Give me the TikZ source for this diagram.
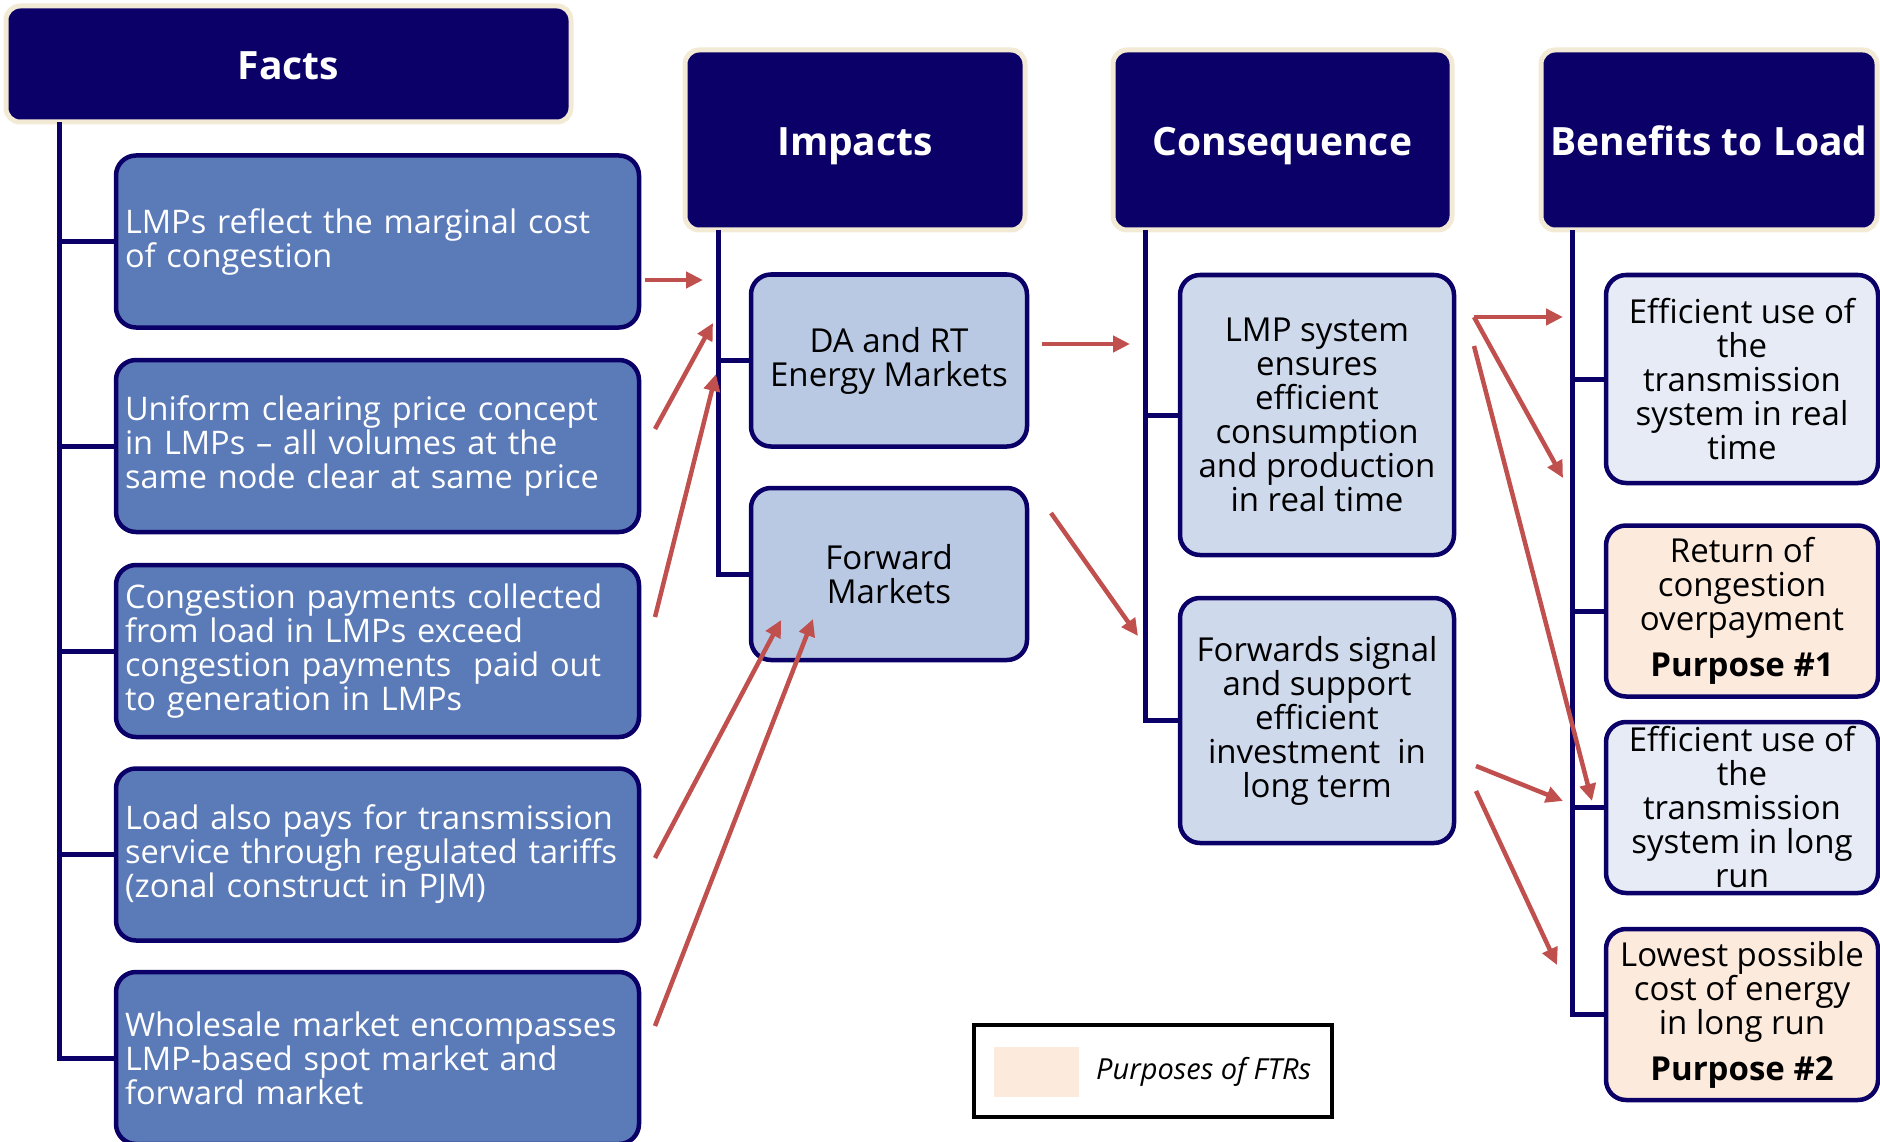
\documentclass[tikz,border=0pt]{standalone}
\usepackage{fontspec}
\setmainfont{Open Sans}
\usetikzlibrary{arrows.meta}
\definecolor{navy}{RGB}{11,0,104}
\definecolor{cream}{RGB}{242,234,212}
\definecolor{factfill}{RGB}{91,122,184}
\definecolor{impfill}{RGB}{185,200,227}
\definecolor{consfill}{RGB}{207,217,236}
\definecolor{benfill}{RGB}{230,235,246}
\definecolor{peach}{RGB}{252,234,220}
\definecolor{arrowred}{RGB}{192,80,77}
\tikzset{
  header/.style={draw=cream, line width=5pt, fill=navy, rounded corners=14pt, text=white,
    font=\fontsize{39}{44}\selectfont\bfseries, align=center, inner sep=0pt,
    text height=32pt, text depth=0pt},
  basebox/.style={draw=navy, line width=4.5pt, rounded corners=20pt, inner sep=0pt, align=center,
    font=\fontsize{33}{34}\selectfont},
  factbox/.style={basebox, fill=factfill, text=white, align=left, text width=505pt,
    minimum width=523pt, minimum height=172pt, font=\fontsize{32.5}{34}\selectfont},
  impbox/.style={basebox, fill=impfill, minimum width=276pt, minimum height=172pt},
  consbox/.style={basebox, fill=consfill, minimum width=274pt},
  benbox/.style={basebox, fill=benfill, minimum width=272pt, minimum height=171pt},
  purpbox/.style={basebox, fill=peach, minimum width=272pt, minimum height=171pt},
  tree/.style={draw=navy, line width=5pt},
  redarrow/.style={draw=arrowred, line width=4.5pt, -{Triangle[length=17pt,width=16pt]}},
}
\begin{document}
\begin{tikzpicture}[x=1pt,y=-1pt]
\useasboundingbox (0,0) rectangle (1880,1142);
\begin{scope}
\clip (0,0) rectangle (1880,1142);
% headers
\node[header, minimum width=565pt, minimum height=116pt] (facts) at (288.5,64) {Facts};
\node[header, minimum width=340pt, minimum height=180pt] (impacts) at (855,140) {Impacts};
\node[header, minimum width=339pt, minimum height=180pt] (cons) at (1282.5,140) {Consequence};
\node[header, minimum width=336pt, minimum height=180pt] (ben) at (1709,140) {Benefits to Load};

% facts boxes
\node[factbox] (f1) at (377.5,241.5) {LMPs reflect the marginal cost\\of congestion};
\node[factbox] (f2) at (377.5,446) {Uniform clearing price concept\\in LMPs – all volumes at the\\same node clear at same price};
\node[factbox] (f3) at (377.5,651) {Congestion payments collected\\from load in LMPs exceed\\congestion payments\ \ paid out\\to generation in LMPs};
\node[factbox] (f4) at (377.5,854.5) {Load also pays for transmission\\service through regulated tariffs\\(zonal construct in PJM)};
\node[factbox] (f5) at (377.5,1058) {Wholesale market encompasses\\LMP-based spot market and\\forward market};

% impacts boxes
\node[impbox] (da) at (889,360.5) {DA and RT\\Energy Markets};
\node[impbox] (fm) at (889,574) {Forward\\Markets};

% consequence boxes
\node[consbox, minimum height=280pt] (lmp) at (1317,415) {LMP system\\ensures\\efficient\\consumption\\and production\\in real time};
\node[consbox, minimum height=245pt] (fwd) at (1317,720.5) {Forwards signal\\and support\\efficient\\investment\ \ in\\long term};

% benefits boxes
\node[benbox, minimum height=208pt] (b1) at (1742,379) {Efficient use of\\the\\transmission\\system in real\\time};
\node[purpbox] (b2) at (1742,611) {Return of\\congestion\\overpayment\\[12pt]\textbf{Purpose \#1}};
\node[benbox] (b3) at (1742,807.5) {Efficient use of\\the\\transmission\\system in long\\run};
\node[purpbox] (b4) at (1742,1014.5) {Lowest possible\\cost of energy\\in long run\\[12pt]\textbf{Purpose \#2}};

% tree lines
\coordinate (ft) at (59,122);
\coordinate (it) at (718,230);
\coordinate (ct) at (1145,230);
\coordinate (bt) at (1572,230);
\draw[tree] (ft) |- (f5.west);
\foreach \n in {f1,f2,f3,f4} \draw[tree] (ft |- \n.west) -- (\n.west);
\draw[tree] (it) |- (fm.west);
\draw[tree] (it |- da.west) -- (da.west);
\draw[tree] (ct) |- (fwd.west);
\draw[tree] (ct |- lmp.west) -- (lmp.west);
\draw[tree] (bt) |- (b4.west);
\foreach \n in {b1,b2,b3} \draw[tree] (bt |- \n.west) -- (\n.west);

% legend
\node[draw=black, line width=4pt, minimum width=358pt, minimum height=92pt, inner sep=0pt] (legend) at (1153,1071) {};
\node[fill=peach, minimum width=85pt, minimum height=50pt, inner sep=0pt] (swatch) at (1036.5,1072) {};
\node[anchor=west, inner sep=0pt, font=\fontsize{29}{30}\selectfont\itshape] (legtext) at (1096,1072) {Purposes of FTRs};

% arrows
\coordinate (a1s) at (645,280);  \coordinate (a1e) at (703,280);
\coordinate (a2s) at (655,429);  \coordinate (a2e) at (713,323);
\coordinate (a3s) at (655,617);  \coordinate (a3e) at (716,374);
\coordinate (a4s) at (655,858);  \coordinate (a4e) at (781,620);
\coordinate (a5s) at (655,1026); \coordinate (a5e) at (813,619);
\coordinate (a6s) at (1042,344); \coordinate (a6e) at (1130,344);
\coordinate (a7s) at (1051,513); \coordinate (a7e) at (1138,636);
\coordinate (a8s) at (1474,317); \coordinate (a8e) at (1563,317);
\coordinate (a8f) at (1563,478);
\coordinate (a9s) at (1474,346); \coordinate (a9e) at (1592,801);
\coordinate (a10s) at (1476,766); \coordinate (a10e) at (1563,801);
\coordinate (a11s) at (1476,791); \coordinate (a11e) at (1557,965);
\draw[redarrow] (a1s) -- (a1e);
\draw[redarrow] (a2s) -- (a2e);
\draw[redarrow] (a3s) -- (a3e);
\draw[redarrow] (a4s) -- (a4e);
\draw[redarrow] (a5s) -- (a5e);
\draw[redarrow] (a6s) -- (a6e);
\draw[redarrow] (a7s) -- (a7e);
\draw[redarrow] (a8s) -- (a8e);
\draw[redarrow] (a8s) -- (a8f);
\draw[redarrow] (a9s) -- (a9e);
\draw[redarrow] (a10s) -- (a10e);
\draw[redarrow] (a11s) -- (a11e);
\end{scope}
\end{tikzpicture}
\end{document}
